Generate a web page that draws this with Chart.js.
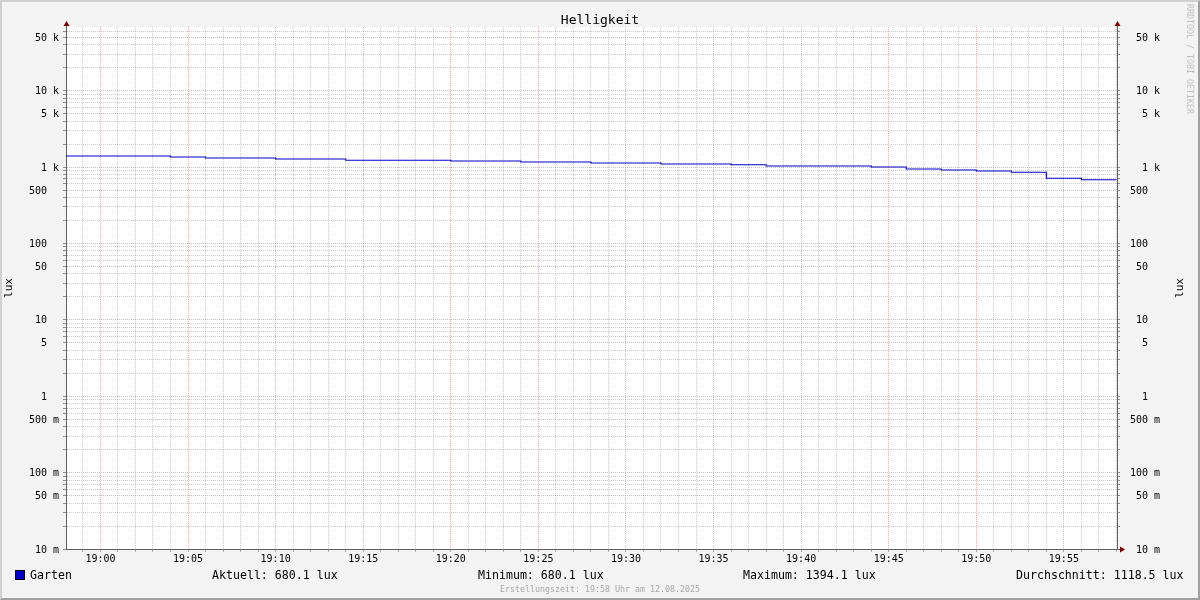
<!DOCTYPE html>
<html>
<head>
<meta charset="utf-8">
<script src="https://cdn.jsdelivr.net/npm/chart.js@4.4.1/dist/chart.umd.min.js"></script>
<style>
html,body{margin:0;padding:0;background:#f3f3f3;}
#wrap{position:relative;width:1200px;height:600px;overflow:hidden;background:#f3f3f3;font-family:'DejaVu Sans Mono',monospace;}
#c{position:absolute;left:0;top:0;}
#frame{position:absolute;left:0;top:0;width:1200px;height:600px;box-sizing:border-box;border-top:2px solid #d0d0d0;border-left:2px solid #d0d0d0;border-right:2px solid #a0a0a0;border-bottom:2px solid #a0a0a0;pointer-events:none;}
.t{position:absolute;white-space:pre;color:#000;font-size:11.6px;line-height:14px;}
#legbox{position:absolute;left:15px;top:570px;width:8px;height:8px;border:1px solid #000;background:#0000cc;}
#footer{position:absolute;left:0;width:1200px;top:584px;text-align:center;font-size:8.3px;line-height:10px;color:#a8a8a8;white-space:pre;}
#wm{position:absolute;left:1185px;top:4px;writing-mode:vertical-rl;font-size:8.3px;line-height:10px;color:#c0c0c0;white-space:pre;}
#rlux{position:absolute;left:1160px;top:281px;width:40px;height:14px;text-align:center;font-size:11px;line-height:14px;transform:rotate(-90deg);transform-origin:20px 7px;white-space:pre;color:#000;}
</style>
</head>
<body>
<div id="wrap">
<canvas id="c" width="1200" height="600"></canvas>
<div id="legbox"></div>
<div id="leg"></div>
<div id="rlux">lux</div>
<div id="wm">RRDTOOL / TOBI OETIKER</div>
<div id="footer">Erstellungszeit: 19:58 Uhr am 12.08.2025</div>
<div id="frame"></div>
</div>
<script>
// ---- data ----
const seriesName = 'Garten';
const timeLabels = ['18:58','19:00','19:02','19:04','19:06','19:08','19:10','19:12','19:14','19:16',
                    '19:18','19:20','19:22','19:24','19:26','19:28','19:30','19:32','19:34','19:36',
                    '19:38','19:40','19:42','19:44','19:46','19:48','19:50','19:52','19:54','19:56','19:58'];
const gartenLux = [1394.1,1394.1,1394.1,1351,1311,1311,1273,1273,1224,1224,
                   1224,1197,1197,1162,1162,1128,1128,1095,1095,1072,
                   1030,1030,1030,1000,942,913,887,852,711,680.1,680.1];
const windowStart = '18:58:02';
const windowEnd = '19:58:02';
const xMajorLabels = ['19:00','19:05','19:10','19:15','19:20','19:25','19:30','19:35','19:40','19:45','19:50','19:55'];
const yMajorValues = [0.01,0.05,0.1,0.5,1,5,10,50,100,500,1000,5000,10000,50000];
const yMajorLabels = ['10 m','50 m','100 m','500 m','1','5','10','50','100','500','1 k','5 k','10 k','50 k'];
const yMinorMantissas = [2,3,4,6,7,8,9];
const yMin = 0.01, yMax = 68000;
const statLabels = ['Aktuell','Minimum','Maximum','Durchschnitt'];
const statValues = ['680.1','680.1','1394.1','1118.5'];
const unit = 'lux';

// ---- helpers ----
const MONO = "'DejaVu Sans Mono', monospace";
const MAJ = 'rgba(205,60,60,0.42)';
const MIN_C = 'rgba(140,140,140,0.45)';
const AXIS = '#606060';
const toMin = s => { const p = s.split(':').map(Number); return p[0]*60 + p[1] + (p[2]||0)/60; };
const xMin = toMin(windowStart), xMax = toMin(windowEnd);
const xMajorMinutes = xMajorLabels.map(toMin);
const isMajorX = v => xMajorMinutes.indexOf(v) >= 0;
const yMajorIndex = v => yMajorValues.findIndex(m => Math.abs(v/m - 1) < 1e-6);
const padLabel = s => { const p = s.split(' '); return p[0].padStart(3,' ') + (p[1] ? ' ' + p[1] : '  '); };

function yTicks(scale){
  const t = [];
  for (let e = -2; e <= 4; e++) {
    for (let m = 1; m <= 9; m++) {
      const v = Number((m*Math.pow(10,e)).toPrecision(6));
      if (v < yMin || v > yMax) continue;
      if (m === 1 || m === 5 || yMinorMantissas.indexOf(m) >= 0) t.push({value: v});
    }
  }
  scale.ticks = t;
}
function xTicks(scale){
  const t = [];
  for (let v = Math.ceil(xMin); v <= Math.floor(xMax); v++) t.push({value: v});
  scale.ticks = t;
}
const yLabel = v => { const i = yMajorIndex(v); return i >= 0 ? padLabel(yMajorLabels[i]) : ''; };
const yGridColor = c => yMajorIndex(c.tick.value) >= 0 ? MAJ : MIN_C;

// ---- legend (HTML text) ----
const leg = document.getElementById('leg');
const statX = [212, 478, 743, 1016];
const items = [{x:30, text: seriesName}].concat(statLabels.map((l,i)=>({x:statX[i], text: l + ': ' + statValues[i] + ' ' + unit})));
items.forEach(it => { const d = document.createElement('div'); d.className='t'; d.style.left = it.x+'px'; d.style.top='568px'; d.textContent = it.text; leg.appendChild(d); });

// ---- plugins ----
const areaBg = { id:'areaBg', beforeDraw(chart){ const {ctx, chartArea:a} = chart; ctx.save(); ctx.fillStyle='#ffffff'; ctx.fillRect(a.left, a.top, a.right-a.left, a.bottom-a.top); ctx.restore(); } };
const arrows = { id:'arrows', afterDraw(chart){
  const {ctx, chartArea:a} = chart;
  ctx.save();
  ctx.strokeStyle = AXIS; ctx.lineWidth = 1;
  ctx.beginPath();
  ctx.moveTo(a.left+0.5, a.top); ctx.lineTo(a.left+0.5, a.top-2);
  ctx.moveTo(a.right+0.5, a.top); ctx.lineTo(a.right+0.5, a.top-2);
  ctx.moveTo(a.right, a.bottom+0.5); ctx.lineTo(a.right+3, a.bottom+0.5);
  ctx.stroke();
  ctx.fillStyle = '#7f0000';
  [a.left+0.5, a.right+0.5].forEach(x => {
    ctx.beginPath(); ctx.moveTo(x, a.top-6); ctx.lineTo(x+3, a.top-1); ctx.lineTo(x-3, a.top-1); ctx.closePath(); ctx.fill();
  });
  ctx.beginPath(); ctx.moveTo(a.right+8, a.bottom+0.5); ctx.lineTo(a.right+3, a.bottom-2.5); ctx.lineTo(a.right+3, a.bottom+3.5); ctx.closePath(); ctx.fill();
  ctx.restore();
} };

// ---- chart ----
new Chart(document.getElementById('c').getContext('2d'), {
  type: 'line',
  data: { datasets: [{
    label: seriesName,
    data: timeLabels.map((t,i) => ({x: toMin(t), y: gartenLux[i]})),
    borderColor: '#0000cc', borderWidth: 1.1, pointRadius: 0, stepped: 'before', fill: false, tension: 0
  }]},
  options: {
    responsive: false, animation: false, devicePixelRatio: 1,
    layout: { padding: 0 },
    plugins: {
      legend: { display: false }, tooltip: { enabled: false },
      title: { display: true, text: 'Helligkeit', color: '#000', font: { family: MONO, size: 13, weight: 'normal', lineHeight: 1 }, padding: { top: 14, bottom: 0 } }
    },
    scales: {
      x: {
        type: 'linear', position: 'bottom', min: xMin, max: xMax, bounds: 'data',
        afterBuildTicks: xTicks,
        afterFit: s => { s.height = 51; },
        ticks: { autoSkip: false, maxRotation: 0, minRotation: 0, padding: 1, color: '#000', font: { family: MONO, size: 10 },
                 callback: v => { const i = xMajorMinutes.indexOf(v); return i >= 0 ? xMajorLabels[i] : ''; } },
        grid: { color: c => isMajorX(c.tick.value) ? MAJ : MIN_C, lineWidth: 1, drawTicks: true, tickLength: 3, tickColor: 'rgba(120,120,120,0.6)' },
        border: { display: true, color: AXIS, width: 1, dash: [1,1] }
      },
      y: {
        type: 'logarithmic', position: 'left', min: yMin, max: yMax,
        afterBuildTicks: yTicks,
        afterFit: s => { s.width = 66; },
        title: { display: true, text: unit, color: '#000', font: { family: MONO, size: 11 }, padding: { top: 2.5, bottom: 0 } },
        ticks: { autoSkip: false, padding: 4, labelOffset: 1, color: '#000', font: { family: MONO, size: 10 }, callback: yLabel },
        grid: { color: yGridColor, lineWidth: 1, drawTicks: true, tickLength: 3, tickColor: 'rgba(100,100,100,0.7)' },
        border: { display: true, color: AXIS, width: 1, dash: [1,1] }
      },
      y2: {
        type: 'logarithmic', position: 'right', min: yMin, max: yMax,
        afterBuildTicks: yTicks,
        afterFit: s => { s.width = 83; },
        ticks: { autoSkip: false, padding: 10, labelOffset: 1, color: '#000', font: { family: MONO, size: 10 }, callback: yLabel },
        grid: { drawOnChartArea: false, color: yGridColor, lineWidth: 1, drawTicks: true, tickLength: 3, tickColor: 'rgba(100,100,100,0.7)' },
        border: { display: true, color: AXIS, width: 1 }
      }
    }
  },
  plugins: [areaBg, arrows]
});
</script>
</body>
</html>
